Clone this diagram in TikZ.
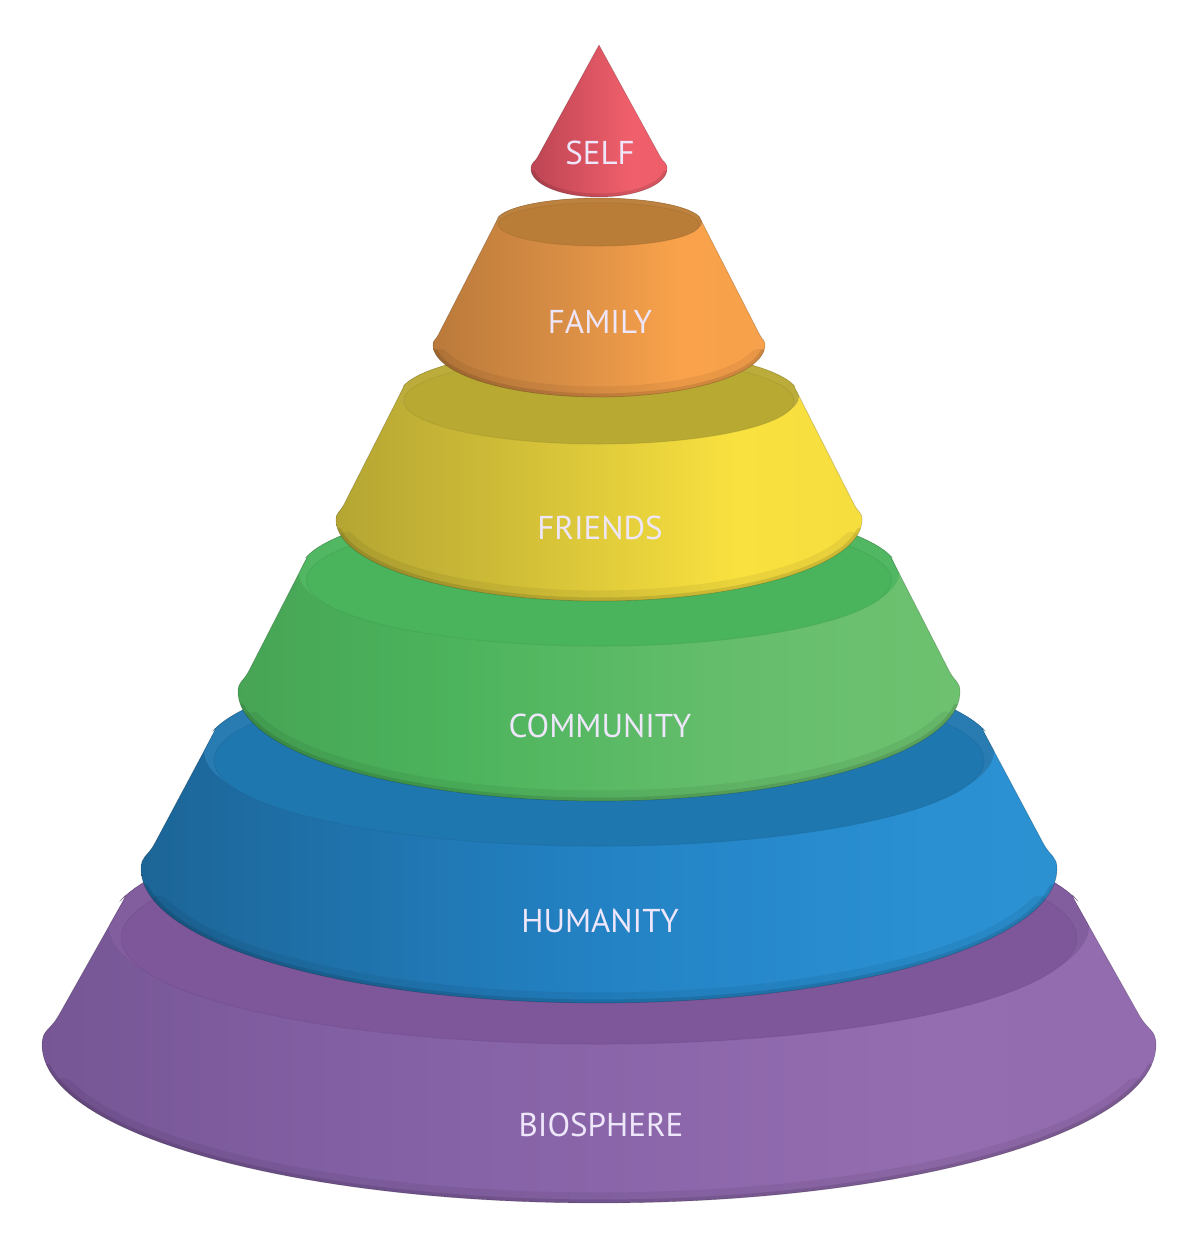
\documentclass[tikz,border=0pt]{standalone}
\usepackage{fontspec}
\setmainfont{PT Sans}
\usetikzlibrary{calc}

% side colours
\definecolor{selfL}{HTML}{9A3646}\definecolor{selfA}{HTML}{D24F5D}\definecolor{selfB}{HTML}{F0606C}\definecolor{selfR}{HTML}{E85866}
\definecolor{famL}{HTML}{93602D}\definecolor{famA}{HTML}{D98E45}\definecolor{famB}{HTML}{F9A24B}\definecolor{famC}{HTML}{F6A04C}\definecolor{famR}{HTML}{DF8E44}
\definecolor{friL}{HTML}{8C822D}\definecolor{friA}{HTML}{CDBB37}\definecolor{friB}{HTML}{F9E13F}\definecolor{friC}{HTML}{F3DB3E}\definecolor{friR}{HTML}{DCC738}
\definecolor{comL}{HTML}{3D8A49}\definecolor{comA}{HTML}{4CB45C}\definecolor{comB}{HTML}{66BE6C}\definecolor{comC}{HTML}{72C472}\definecolor{comR}{HTML}{5DB465}
\definecolor{humL}{HTML}{185B83}\definecolor{humD}{HTML}{1C6597}\definecolor{humA}{HTML}{2382C4}\definecolor{humB}{HTML}{2A90D2}\definecolor{humC}{HTML}{2E93D0}\definecolor{humR}{HTML}{2282C0}
\definecolor{bioL}{HTML}{62467D}\definecolor{bioA}{HTML}{8360A4}\definecolor{bioB}{HTML}{946DB0}\definecolor{bioC}{HTML}{9168AD}\definecolor{bioR}{HTML}{7F579D}
% top faces
\definecolor{famT}{HTML}{BA7D37}
\definecolor{friT}{HTML}{B8A933}
\definecolor{comT}{HTML}{4AB45C}
\definecolor{humT}{HTML}{1F77AF}
\definecolor{bioT}{HTML}{7E579B}
\definecolor{labelcol}{HTML}{EEE6FA}

\pgfdeclarehorizontalshading{selfside}{100bp}{color(0bp)=(selfL); color(40bp)=(selfA); color(62bp)=(selfB); color(100bp)=(selfR)}
\pgfdeclarehorizontalshading{famside}{100bp}{color(0bp)=(famL); color(45bp)=(famA); color(62bp)=(famB); color(85bp)=(famC); color(100bp)=(famR)}
\pgfdeclarehorizontalshading{friside}{100bp}{color(0bp)=(friL); color(40bp)=(friA); color(63bp)=(friB); color(85bp)=(friC); color(100bp)=(friR)}
\pgfdeclarehorizontalshading{comside}{100bp}{color(0bp)=(comL); color(40bp)=(comA); color(60bp)=(comB); color(85bp)=(comC); color(100bp)=(comR)}
\pgfdeclarehorizontalshading{humside}{100bp}{color(0bp)=(humL); color(25bp)=(humD); color(50bp)=(humA); color(68bp)=(humB); color(88bp)=(humC); color(100bp)=(humR)}
\pgfdeclarehorizontalshading{bioside}{100bp}{color(0bp)=(bioL); color(40bp)=(bioA); color(65bp)=(bioB); color(85bp)=(bioC); color(100bp)=(bioR)}

% current layer: top centre y, top radii, bottom centre y, bottom radii
\newcommand{\setlayer}[6]{\def\LT{#1}\def\La{#2}\def\Lb{#3}\def\LBc{#4}\def\LA{#5}\def\LBb{#6}}
% construction points of the current layer (rounded corners)
\newcommand{\layerpoints}{%
  \pgfmathsetmacro\dB{0.125*\LBb}%   pt
  \pgfmathsetmacro\dBu{0.10*\LBb}%   picture units
  \pgfmathsetmacro\dT{0.13*\Lb}%
  \coordinate (TR) at ({599+\La},\LT);
  \coordinate (TL) at ({599-\La},\LT);
  \coordinate (BR) at ({599+\LA},\LBc);
  \coordinate (BL) at ({599-\LA},\LBc);
  \coordinate (BRv) at ({599+\LA},{\LBc-\dBu});
  \coordinate (BLv) at ({599-\LA},{\LBc-\dBu});
  \coordinate (PR) at ($(BR)!\dB pt!(TR)$);
  \coordinate (PL) at ($(BL)!\dB pt!(TL)$);
  \coordinate (PRc) at ($(PR)!0.55!(BR)$);
  \coordinate (PLc) at ($(PL)!0.55!(BL)$);
  \coordinate (FR) at ({599+\La*cos(12)},{\LT-\Lb*sin(12)});
  \coordinate (FRt) at ({599+\La*cos(12)+\La*sin(12)},{\LT-\Lb*sin(12)+\Lb*cos(12)});
  \coordinate (FL) at ({599-\La*cos(12)},{\LT-\Lb*sin(12)});
  \coordinate (FLt) at ({599-\La*cos(12)-\La*sin(12)},{\LT-\Lb*sin(12)+\Lb*cos(12)});
  \coordinate (JR) at (intersection of TR--BR and FR--FRt);
  \coordinate (JL) at (intersection of TL--BL and FL--FLt);
  \coordinate (QR) at ($(JR)!\dT pt!(BR)$);
  \coordinate (QL) at ($(JL)!\dT pt!(BL)$);
}
\newcommand{\bodypath}{%
  (FL) -- plot[domain=192:348,samples=70,variable=\t] ({599+\La*cos(\t)},{\LT+\Lb*sin(\t)})
  .. controls (JR) .. (QR) -- (PR) .. controls (PRc) and (BRv) .. (BR)
  -- plot[domain=0:180,samples=100,variable=\t] ({599+\LA*cos(\t)},{\LBc+\LBb*sin(\t)})
  .. controls (BLv) and (PLc) .. (PL) -- (QL) .. controls (JL) .. cycle}
\newcommand{\drawlayer}[2]{% shading, top colour
  \layerpoints
  \shade[shading=#1] \bodypath;
  \begin{scope}
    \clip \bodypath;
    \draw[black, opacity=.06, line width=12pt, line cap=round]
      plot[domain=16:164,samples=90,variable=\t] ({599+\LA*cos(\t)},{\LBc+\LBb*sin(\t)});
    \draw[black, opacity=.11, line width=4pt, line cap=round]
      plot[domain=8:172,samples=90,variable=\t] ({599+\LA*cos(\t)},{\LBc+\LBb*sin(\t)});
    \fill[#2!96!white] (599,\LT) ellipse [x radius=\La, y radius=\Lb];
    \fill[#2] (599,{\LT+0.1*\Lb}) ellipse [x radius={0.975*\La}, y radius={0.9*\Lb}];
    \draw[#2!85!black, opacity=.3, line width=.6pt] (599,{\LT+0.1*\Lb}) ellipse [x radius={0.975*\La}, y radius={0.9*\Lb}];
  \end{scope}
  \draw[black, opacity=.18, line width=.4pt] \bodypath;
}

\tikzset{lbl/.style={text=labelcol, font=\fontsize{18.8}{20}\selectfont, inner sep=0pt}}

\begin{document}
\begin{tikzpicture}[x=0.02cm, y=-0.02cm]
\useasboundingbox (0,0) rectangle (1199,1250);

% BIOSPHERE
\setlayer{926}{490}{118}{1045}{557}{158}
\drawlayer{bioside}{bioT}
% HUMANITY
\setlayer{751}{395}{95}{869}{458}{134}
\drawlayer{humside}{humT}
% COMMUNITY
\setlayer{573}{300}{73}{692}{361}{109}
\drawlayer{comside}{comT}
% FRIENDS
\setlayer{396}{200}{48}{520}{263}{81}
\drawlayer{friside}{friT}
% FAMILY
\setlayer{222}{103}{24}{345}{166}{52}
\drawlayer{famside}{famT}

% SELF cone
\coordinate (apex) at (599,45);
\coordinate (sBL) at (531,169);
\coordinate (sBR) at (667,169);
\coordinate (sBRv) at (667,162);
\coordinate (sBLv) at (531,162);
\coordinate (sPR) at ($(sBR)!8pt!(apex)$);
\coordinate (sPL) at ($(sBL)!8pt!(apex)$);
\coordinate (sPRc) at ($(sPR)!0.55!(sBR)$);
\coordinate (sPLc) at ($(sPL)!0.55!(sBL)$);
\newcommand{\selfpath}{%
  (apex) -- (sPR) .. controls (sPRc) and (sBRv) .. (sBR)
  -- plot[domain=0:180,samples=50,variable=\t] ({599+68*cos(\t)},{169+28*sin(\t)})
  .. controls (sBLv) and (sPLc) .. (sPL) -- cycle}
\shade[shading=selfside] \selfpath;
\begin{scope}
  \clip \selfpath;
  \draw[black, opacity=.11, line width=4pt, line cap=round]
    plot[domain=10:170,samples=50,variable=\t] ({599+68*cos(\t)},{169+28*sin(\t)});
\end{scope}
\draw[black, opacity=.18, line width=.4pt] \selfpath;

% labels
\node[lbl] (self) at (600,153) {SELF};
\node[lbl] (family) at (600,322) {FAMILY};
\node[lbl] (friends) at (600,528) {FRIENDS};
\node[lbl] (community) at (600,726) {COMMUNITY};
\node[lbl] (humanity) at (600,921) {HUMANITY};
\node[lbl] (biosphere) at (601,1125) {BIOSPHERE};
\end{tikzpicture}
\end{document}
